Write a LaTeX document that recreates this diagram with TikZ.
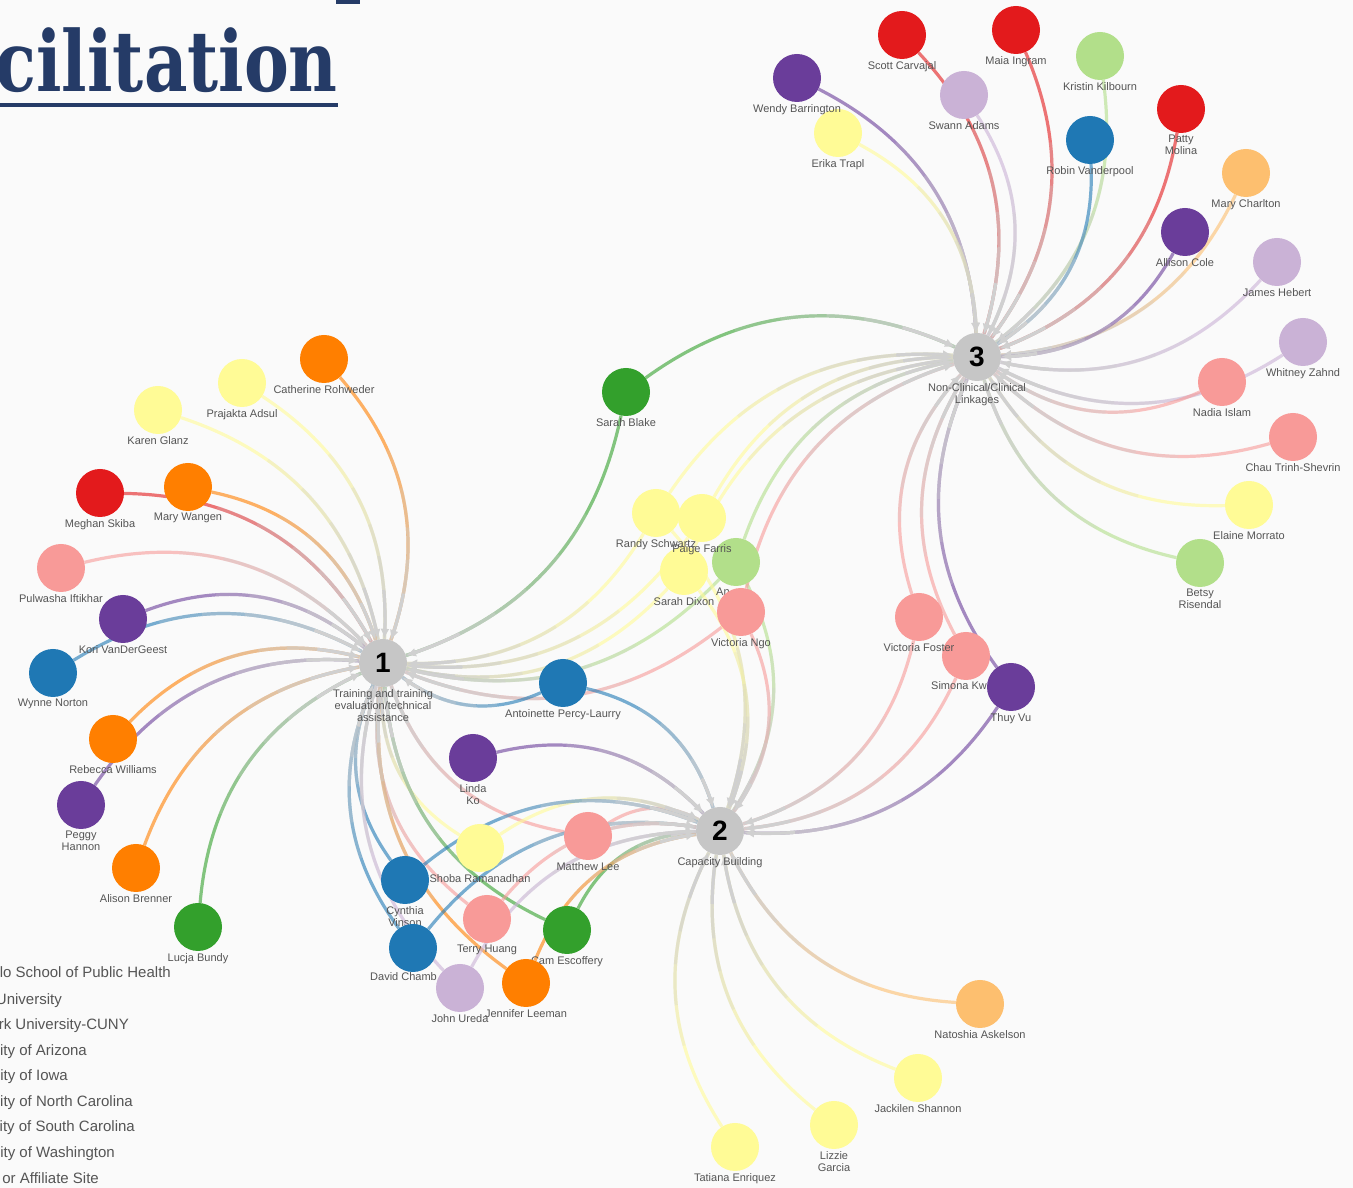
\documentclass[tikz,border=0pt]{standalone}
\usepackage{fontspec}
\usepackage{graphicx}
\setmainfont{Liberation Sans}
\newfontfamily\titlefont{DejaVu Serif}
\usetikzlibrary{arrows.meta,calc}
\definecolor{cred}{HTML}{E31A1C}
\definecolor{corange}{HTML}{FF7F00}
\definecolor{clorange}{HTML}{FDBF6F}
\definecolor{cyellow}{HTML}{FFFB96}
\definecolor{clgreen}{HTML}{B2DF8A}
\definecolor{cgreen}{HTML}{33A02C}
\definecolor{cblue}{HTML}{1F78B4}
\definecolor{cpurple}{HTML}{6A3D9A}
\definecolor{clpurple}{HTML}{CAB2D6}
\definecolor{cpink}{HTML}{F89A98}
\definecolor{hubfill}{HTML}{C6C6C6}
\definecolor{edgegray}{HTML}{D0D0D0}
\definecolor{lblgray}{HTML}{555555}
\definecolor{titleblue}{HTML}{253B67}
\definecolor{bgcol}{HTML}{FAFAFA}
\pgfdeclarelayer{bg}
\pgfsetlayers{bg,main}
\newcommand\rightpart[2]{%
  \coordinate (Q01) at ($(P0)!#1!(P1)$);
  \coordinate (Q12) at ($(P1)!#1!(P2)$);
  \coordinate (Q23) at ($(P2)!#1!(P3)$);
  \coordinate (Q012) at ($(Q01)!#1!(Q12)$);
  \coordinate (Q123) at ($(Q12)!#1!(Q23)$);
  \coordinate (Q0123) at ($(Q012)!#1!(Q123)$);
  \draw[#2] (Q0123) .. controls (Q123) and (Q23) .. (P3);
}
\newcommand\hublink[3]{%
  \draw[cedge=#3] (#1) to[bend left=30] (#2);
  \pgfpointanchor{#1}{center}\pgfgetlastxy{\hax}{\hay}%
  \pgfpointanchor{#2}{center}\pgfgetlastxy{\hbx}{\hby}%
  \pgfmathsetmacro\hang{atan2(\hby-\hay,\hbx-\hax)}%
  \pgfmathsetmacro\hka{\hang+30}%
  \pgfmathsetmacro\hkb{\hang+150}%
  \pgfmathsetmacro\hrr{24.2+0.3915*(veclen(\hbx-\hax,\hby-\hay)-41.92)}%
  \coordinate (P0) at ($(#1.center)+(\hka:24.2)$);
  \coordinate (P1) at ($(#1.center)+(\hka:\hrr)$);
  \coordinate (P2) at ($(#2.center)+(\hkb:\hrr)$);
  \coordinate (P3) at ($(#2.center)+(\hkb:24.2)$);
  \rightpart{0.3}{gseg, opacity=0.2}
  \rightpart{0.45}{gseg, opacity=0.25}
  \rightpart{0.6}{gseg, opacity=0.3}
  \rightpart{0.72}{gseg, opacity=0.4}
  \rightpart{0.84}{gseg, -{Latex[length=10pt,width=9pt]}}
}
\begin{document}
\begin{tikzpicture}[x=1pt,y=1pt,
  person/.style={circle, minimum size=48pt, inner sep=0pt, fill=#1},
  lbl/.style={font=\fontsize{11}{12}\selectfont, text=lblgray, align=center, inner sep=0pt},
  hub/.style={circle, minimum size=48pt, inner sep=0pt, fill=hubfill, font=\fontsize{28}{28}\selectfont\bfseries},
  cedge/.style={line width=3.2pt, draw=#1, opacity=0.6},
  gseg/.style={line width=3.2pt, draw=edgegray},
  legend/.style={font=\fontsize{15}{16}\selectfont, text=lblgray, inner sep=0pt, anchor=base east},
  label distance=2pt
]
\useasboundingbox (0,0) rectangle (1353,1188);

% title
\node[anchor=base east, inner sep=0pt, text=titleblue] (title) at (338,1096)
  {\scalebox{0.80}[1]{\titlefont\bfseries\fontsize{84}{84}\selectfont cilitation}};
\fill[titleblue] (0,1080.5) rectangle (338,1085);
\fill[titleblue] (336,1184) rectangle (360,1188);

% legend
\node[legend] (lg1) at (171,210) {lo School of Public Health};
\node[legend] (lg2) at (62,183.5) {University};
\node[legend] (lg3) at (129,158.5) {rk University-CUNY};
\node[legend] (lg4) at (87,132.5) {ity of Arizona};
\node[legend] (lg5) at (68,107) {ity of Iowa};
\node[legend] (lg6) at (133,81.5) {ity of North Carolina};
\node[legend] (lg7) at (135,56) {ity of South Carolina};
\node[legend] (lg8) at (115,30.5) {ity of Washington};
\node[legend] (lg9) at (99,4.5) {or Affiliate Site};

% hubs
\node[hub, label={[lbl]below:{Training and training\\evaluation/technical\\assistance}}] (h1) at (383,525) {1};
\node[hub, label={[lbl]below:{Capacity Building}}] (h2) at (720,357) {2};
\node[hub, label={[lbl]below:{Non-Clinical/Clinical\\Linkages}}] (h3) at (977,831) {3};

% hub 3 cluster
\node[person=cred, label={[lbl]below:Scott Carvajal}] (scott) at (902,1153) {};
\node[person=cred, label={[lbl]below:Maia Ingram}] (maia) at (1016,1158) {};
\node[person=cyellow, label={[lbl]below:Erika Trapl}] (erika) at (838,1055) {};
\node[person=cpurple, label={[lbl]below:Wendy Barrington}] (wendy) at (797,1110) {};
\node[person=clpurple, label={[lbl]below:Swann Adams}] (swann) at (964,1093) {};
\node[person=clgreen, label={[lbl]below:Kristin Kilbourn}] (kristin) at (1100,1132) {};
\node[person=cblue, label={[lbl]below:Robin Vanderpool}] (robin) at (1090,1048) {};
\node[person=cred, label={[lbl]below:{Patty\\Molina}}] (patty) at (1181,1079) {};
\node[person=clorange, label={[lbl]below:Mary Charlton}] (marych) at (1246,1015) {};
\node[person=cpurple, label={[lbl]below:Allison Cole}] (allison) at (1185,956) {};
\node[person=clpurple, label={[lbl]below:James Hebert}] (james) at (1277,926) {};
\node[person=clpurple, label={[lbl]below:Whitney Zahnd}] (whitney) at (1303,846) {};
\node[person=cpink, label={[lbl]below:Nadia Islam}] (nadia) at (1222,806) {};
\node[person=cpink, label={[lbl]below:Chau Trinh-Shevrin}] (chau) at (1293,751) {};
\node[person=cyellow, label={[lbl]below:Elaine Morrato}] (elaine) at (1249,683) {};
\node[person=clgreen, label={[lbl]below:{Betsy\\Risendal}}] (betsy) at (1200,625) {};

% hub 1 cluster
\node[person=corange, label={[lbl]below:Catherine Rohweder}] (cath) at (324,829) {};
\node[person=cyellow, label={[lbl]below:Prajakta Adsul}] (prajakta) at (242,805) {};
\node[person=cyellow, label={[lbl]below:Karen Glanz}] (karen) at (158,778) {};
\node[person=cred, label={[lbl]below:Meghan Skiba}] (meghan) at (100,695) {};
\node[person=corange, label={[lbl]below:Mary Wangen}] (marywa) at (188,701) {};
\node[person=cpink, label={[lbl]below:Pulwasha Iftikhar}] (pulwasha) at (61,620) {};
\node[person=cpurple, label={[lbl]below:Kori VanDerGeest}] (kori) at (123,569) {};
\node[person=cblue, label={[lbl]below:Wynne Norton}] (wynne) at (53,515) {};
\node[person=corange, label={[lbl]below:Rebecca Williams}] (rebecca) at (113,449) {};
\node[person=cpurple, label={[lbl]below:{Peggy\\Hannon}}] (peggy) at (81,383) {};
\node[person=corange, label={[lbl]below:Alison Brenner}] (alison) at (136,320) {};
\node[person=cgreen, label={[lbl]below:Lucja Bundy}] (lucja) at (198,261) {};

% middle
\node[person=cgreen, label={[lbl]below:Sarah Blake}] (sblake) at (626,796) {};
\node[person=cyellow, label={[lbl]below:Randy Schwartz}] (randy) at (656,675) {};
\node[person=cyellow, label={[lbl]below:Sarah Dixon}] (sdixon) at (684,617) {};
\node[person=clgreen] (an) at (736,626) {};
\node[lbl, anchor=base west] (anlbl) at (716,592) {An};
\node[person=cyellow, label={[lbl]below:Paige Farris}] (paige) at (702,670) {};
\node[person=cpink, label={[lbl]below:Victoria Ngo}] (vngo) at (741,576) {};
\node[person=cblue, label={[lbl]below:Antoinette Percy-Laurry}] (antoinette) at (563,505) {};
\node[person=cpink] (simona) at (966,532) {};
\node[lbl, anchor=base west] (simlbl) at (931,498) {Simona Kw};
\node[person=cpink, label={[lbl]below:Victoria Foster}] (vfoster) at (919,571) {};
\node[person=cpurple, label={[lbl]below:Thuy Vu}] (thuy) at (1011,501) {};

% lower cluster
\node[person=cpurple, label={[lbl]below:{Linda\\Ko}}] (linda) at (473,430) {};
\node[person=cyellow, label={[lbl]below:Shoba Ramanadhan}] (shoba) at (480,340) {};
\node[person=cpink, label={[lbl]below:Matthew Lee}] (matthew) at (588,352) {};
\node[person=cblue, label={[lbl]below:{Cynthia\\Vinson}}] (cynthia) at (405,308) {};
\node[person=cpink, label={[lbl]below:Terry Huang}] (terry) at (487,269) {};
\node[person=cgreen, label={[lbl]below:Cam Escoffery}] (cam) at (567,258) {};
\node[person=cblue] (david) at (413,240) {};
\node[lbl, anchor=base west] (davlbl) at (370,207) {David Chamb};
\node[person=clpurple, label={[lbl]below:John Ureda}] (john) at (460,200) {};
\node[person=corange, label={[lbl]below:Jennifer Leeman}] (jennifer) at (526,205) {};

% hub 2 bottom
\node[person=clorange, label={[lbl]below:Natoshia Askelson}] (natoshia) at (980,184) {};
\node[person=cyellow, label={[lbl]below:Jackilen Shannon}] (jackilen) at (918,110) {};
\node[person=cyellow, label={[lbl]below:{Lizzie\\Garcia}}] (lizzie) at (834,63) {};
\node[person=cyellow, label={[lbl]below:Tatiana Enriquez}] (tatiana) at (735,41) {};

\begin{pgfonlayer}{bg}
\fill[bgcol] (0,0) rectangle (1353,1188);
\foreach \n/\c in {cath/corange, prajakta/cyellow, karen/cyellow, meghan/cred, marywa/corange,
  pulwasha/cpink, kori/cpurple, wynne/cblue, rebecca/corange, peggy/cpurple, alison/corange,
  lucja/cgreen, sblake/cgreen, randy/cyellow, paige/cyellow, sdixon/cyellow, an/clgreen,
  vngo/cpink, antoinette/cblue, matthew/cpink, shoba/cyellow, cynthia/cblue, david/cblue,
  terry/cpink, cam/cgreen, john/clpurple, jennifer/corange}
  {\hublink{\n}{h1}{\c}}
\foreach \n/\c in {linda/cpurple, antoinette/cblue, randy/cyellow, sdixon/cyellow, an/clgreen,
  vngo/cpink, vfoster/cpink, simona/cpink, thuy/cpurple, matthew/cpink, shoba/cyellow,
  cynthia/cblue, david/cblue, terry/cpink, cam/cgreen, jennifer/corange, john/clpurple,
  natoshia/clorange, jackilen/cyellow, lizzie/cyellow, tatiana/cyellow}
  {\hublink{\n}{h2}{\c}}
\foreach \n/\c in {scott/cred, maia/cred, wendy/cpurple, swann/clpurple, kristin/clgreen,
  erika/cyellow, robin/cblue, patty/cred, marych/clorange, allison/cpurple, james/clpurple,
  whitney/clpurple, nadia/cpink, chau/cpink, elaine/cyellow, betsy/clgreen, sblake/cgreen,
  randy/cyellow, paige/cyellow, sdixon/cyellow, an/clgreen, vngo/cpink, vfoster/cpink,
  simona/cpink, thuy/cpurple}
  {\hublink{\n}{h3}{\c}}
\end{pgfonlayer}
\end{tikzpicture}
\end{document}
